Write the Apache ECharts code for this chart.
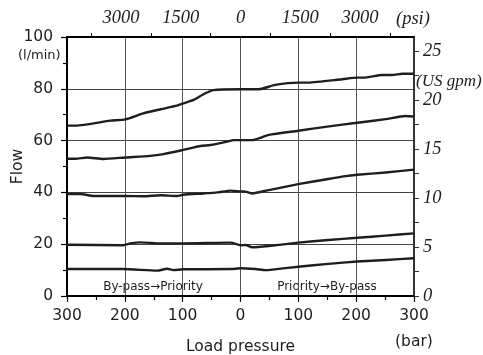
<!DOCTYPE html>
<html>
<head>
<meta charset="utf-8">
<script src="https://cdn.jsdelivr.net/npm/echarts@6/dist/echarts.min.js"></script>
<style>html,body{margin:0;padding:0;background:#fff}#c{width:483px;height:355px}</style>
</head>
<body>
<div id="c"></div>
<script>
// Load pressure (bar; negative = By-pass→Priority side), flow (l/min)
var p1 = [-300,-285,-225,-199,-168,-138,-110,-99,-81,-64,-47,0,31,60,100,117,176,202,213,245,262,280,300];
var f1 = [65.8,65.8,67.7,68.2,70.5,72.1,73.5,74.4,75.7,77.9,79.5,79.8,79.8,81.5,82.4,82.4,83.7,84.3,84.3,85.3,85.3,85.8,85.8];
var p2 = [-300,-285,-265,-237,-199,-156,-133,-99,-69,-52,-23,-12,0,20,49,100,150,202,251,285,300];
var f2 = [53.0,53.0,53.5,52.9,53.5,54.1,54.8,56.4,57.9,58.3,59.6,60.2,60.2,60.2,62.2,63.8,65.4,66.9,68.3,69.5,69.3];
var p3 = [-300,-277,-254,-199,-168,-138,-110,-99,-64,-40,-17,0,9,20,49,100,147,182,202,251,300];
var f3 = [39.4,39.4,38.6,38.6,38.5,38.9,38.6,39.1,39.6,40.0,40.7,40.4,40.3,39.6,40.9,43.2,45.0,46.3,46.8,47.7,48.8];
var p4 = [-300,-203,-190,-173,-138,-99,-17,0,9,20,49,100,152,202,251,300];
var f4 = [19.8,19.6,20.3,20.7,20.3,20.3,20.6,19.6,19.7,18.8,19.3,20.6,21.6,22.5,23.3,24.2];
var p5 = [-300,-203,-144,-127,-116,-99,-17,0,26,43,55,100,152,202,251,300];
var f5 = [10.4,10.4,9.8,10.5,10.0,10.3,10.4,10.7,10.4,10.0,10.2,11.3,12.4,13.3,13.9,14.6];

var psiLabels = [-3000,-1500,0,1500,3000];
var psiTicks = [-3750,-2250,-750,750,2250,3750];
var gpmLabels = [0,5,10,15,20,25];
var gpmTicks = [0,2.5,5,7.5,10,12.5,15,17.5,20,22.5,25];

var BAR2PSI = 14.5038, LPM_PER_GPM = 3.78541;

function pairs(xs, ys){ return xs.map(function(x,i){ return [x, ys[i]]; }); }
var sans = 'DejaVu Sans', serif = 'Liberation Serif';
var ink = '#1e1e1e';

var chart = echarts.init(document.getElementById('c'), null, {renderer:'canvas'});
function line(xs, ys){
  return {type:'line', data:pairs(xs,ys), showSymbol:false, symbol:'none', smooth:0.2,
    xAxisIndex:0, yAxisIndex:0, lineStyle:{color:ink, width:2.4, join:'round'}, z:5, silent:true};
}
chart.setOption({
  animation:false,
  grid:{left:67, right:69, top:37, bottom:59, containLabel:false, outerBoundsMode:'none'},
  xAxis:[
    {type:'value', position:'bottom', min:-300, max:300, interval:100,
     axisLine:{onZero:false, lineStyle:{color:'#000', width:2}},
     axisTick:{length:6, lineStyle:{color:'#000', width:1.2}},
     minorTick:{show:true, splitNumber:2, length:4, lineStyle:{color:'#000', width:1.2}},
     splitLine:{show:true, lineStyle:{color:'#555', width:1}},
     axisLabel:{margin:12, color:ink, fontFamily:sans, fontSize:15.5, formatter:function(v){return Math.abs(v);}},
     name:'Load pressure', nameLocation:'middle', nameGap:43, nameMoveOverlap:false,
     nameTextStyle:{color:ink, fontFamily:sans, fontSize:15.5}},
    {type:'value', position:'top', min:-300*BAR2PSI, max:300*BAR2PSI,
     axisLine:{onZero:false, lineStyle:{color:'#000', width:2}},
     axisTick:{show:true, customValues:psiTicks, length:4, lineStyle:{color:'#000', width:1}},
     splitLine:{show:false},
     axisLabel:{customValues:psiLabels, margin:9, color:ink, fontFamily:serif, fontStyle:'italic', fontSize:18.5,
       formatter:function(v){return Math.abs(v);}}}
  ],
  yAxis:[
    {type:'value', position:'left', min:0, max:100, interval:20,
     axisLine:{show:true, onZero:false, lineStyle:{color:'#000', width:2}},
     axisTick:{show:true, length:6, lineStyle:{color:'#000', width:1.2}},
     minorTick:{show:true, splitNumber:2, length:4, lineStyle:{color:'#000', width:1.2}},
     splitLine:{show:true, lineStyle:{color:'#444', width:1}},
     axisLabel:{margin:14, color:ink, fontFamily:sans, fontSize:15.5},
     name:'Flow', nameLocation:'middle', nameGap:41, nameMoveOverlap:false,
     nameTextStyle:{color:ink, fontFamily:sans, fontSize:15.5}},
    {type:'value', position:'right', min:0, max:100/LPM_PER_GPM,
     axisLine:{show:true, onZero:false, lineStyle:{color:'#333', width:2}},
     axisTick:{show:true, customValues:gpmTicks, length:5, lineStyle:{color:'#333', width:1}},
     splitLine:{show:false},
     axisLabel:{customValues:gpmLabels, margin:9, color:ink, fontFamily:serif, fontStyle:'italic', fontSize:18.5}}
  ],
  graphic:[
    {type:'text', left:18, top:49, style:{text:'(l/min)', fill:ink, font:'13px "DejaVu Sans"'}},
    {type:'text', left:396, top:10, style:{text:'(psi)', fill:ink, font:'italic 18.5px "Liberation Serif"'}},
    {type:'text', left:416, top:73, style:{text:'(US gpm)', fill:ink, font:'italic 17px "Liberation Serif"'}},
    {type:'text', left:395, top:334, style:{text:'(bar)', fill:ink, font:'15.5px "DejaVu Sans"'}},
    {type:'text', x:153, y:287, style:{text:'By-pass\u2192Priority', fill:ink, font:'12px "DejaVu Sans"', align:'center', verticalAlign:'middle'}},
    {type:'text', x:327, y:287, style:{text:'Priority\u2192By-pass', fill:ink, font:'12px "DejaVu Sans"', align:'center', verticalAlign:'middle'}}
  ],
  series:[line(p1,f1), line(p2,f2), line(p3,f3), line(p4,f4), line(p5,f5)]
});
</script>
</body>
</html>
